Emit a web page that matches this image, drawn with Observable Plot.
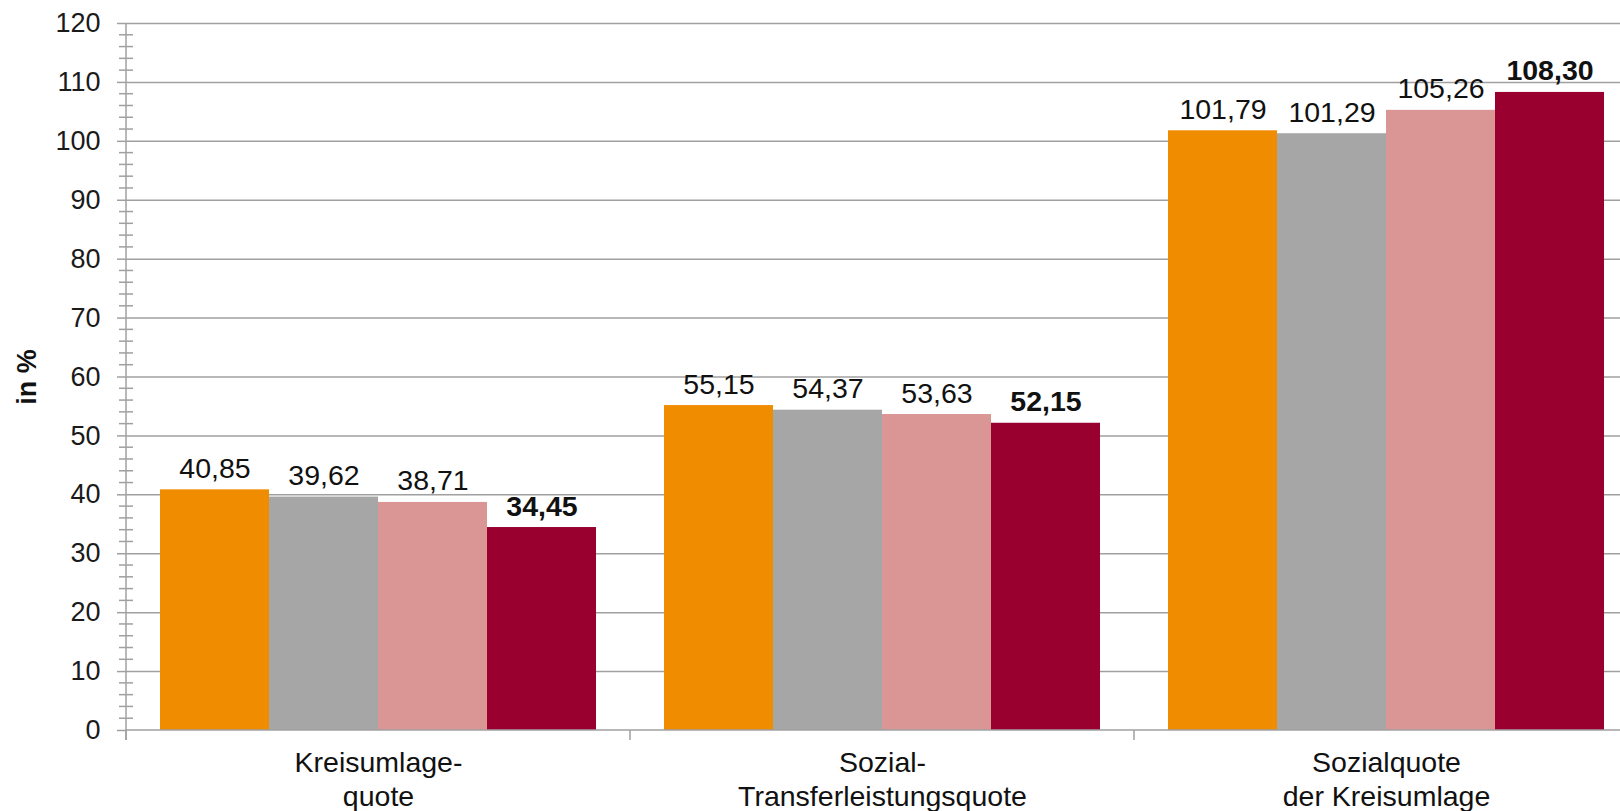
<!DOCTYPE html>
<html>
<head>
<meta charset="utf-8">
<script src="https://cdn.jsdelivr.net/npm/d3@7"></script>
<script src="https://cdn.jsdelivr.net/npm/@observablehq/plot@0.6"></script>
<style>
  html, body { margin: 0; padding: 0; background: #fff; overflow: hidden; }
  #chart svg { display: block; }
</style>
</head>
<body>
<div id="chart"></div>
<script>
// ---- Data ----
const categories = ["Kreisumlage-\nquote", "Sozial-\nTransferleistungsquote", "Sozialquote\nder Kreisumlage"];
const series = ["Reihe 1", "Reihe 2", "Reihe 3", "Reihe 4"];
const reihe1 = [40.85, 55.15, 101.79];
const reihe2 = [39.62, 54.37, 101.29];
const reihe3 = [38.71, 53.63, 105.26];
const reihe4 = [34.45, 52.15, 108.30];
const yTicks = [0, 10, 20, 30, 40, 50, 60, 70, 80, 90, 100, 110, 120];
const yLabel = "in %";
const colors = ["#F08C00", "#A6A6A6", "#D99694", "#990030"];

const seriesValues = [reihe1, reihe2, reihe3, reihe4];
const table = [];
series.forEach((s, si) => {
  categories.forEach((c, ci) => {
    table.push({cat: c, series: s, value: seriesValues[si][ci]});
  });
});
const fmt = v => v.toFixed(2).replace(".", ",");
const lastSeries = series[series.length - 1];

const font = "'Liberation Sans', Arial, sans-serif";
const gridColor = "#a0a0a0";

const plot = Plot.plot({
  width: 1620,
  height: 811,
  marginLeft: 126,
  marginRight: -18,
  marginTop: 23,
  marginBottom: 81,
  style: {fontFamily: font, background: "#fff", overflow: "visible"},
  fx: {domain: categories, padding: 0, axis: null},
  x: {domain: series, paddingInner: 0, paddingOuter: 0.31, axis: null},
  y: {domain: [0, 120], axis: null},
  color: {domain: series, range: colors},
  marks: [
    Plot.ruleY(yTicks.filter(d => d > 0), {stroke: gridColor, strokeWidth: 1.5}),
    Plot.axisY({
      ticks: yTicks, tickSize: 9, tickPadding: 17, fontSize: 27,
      stroke: gridColor, strokeWidth: 1.5, strokeOpacity: 1, fill: "#1a1a1a", label: null,
      tickFormat: d => String(d)
    }),
    Plot.barY(table, {fx: "cat", x: "series", y: "value", fill: "series"}),
    Plot.text(table.filter(d => d.series !== lastSeries), {
      fx: "cat", x: "series", y: "value", text: d => fmt(d.value),
      lineAnchor: "bottom", dy: -12, fontSize: 28.5, fill: "#111"
    }),
    Plot.text(table.filter(d => d.series === lastSeries), {
      fx: "cat", x: "series", y: "value", text: d => fmt(d.value),
      lineAnchor: "bottom", dy: -12, fontSize: 28.5, fontWeight: "bold", fill: "#111"
    }),
    Plot.axisFx({
      anchor: "bottom", tickSize: 0, tickPadding: 17, fontSize: 28.5,
      lineHeight: 1.2, fill: "#111", label: null
    }),
    Plot.text([yLabel], {
      fx: () => categories[0], frameAnchor: "left", textAnchor: "middle", lineAnchor: "middle",
      rotate: -90, dx: -99, fontSize: 27, fontWeight: "bold", fill: "#111", text: d => d
    })
  ]
});

document.getElementById("chart").appendChild(plot);

// Axis lines, minor ticks and group separator ticks, positioned through Plot's scales
const y = plot.scale("y");
const fx = plot.scale("fx");
const x0 = fx.apply(categories[0]);
const xEnd = fx.apply(categories[categories.length - 1]) + fx.bandwidth;
const y0 = y.apply(0);
const g = d3.select(plot).append("g")
  .attr("stroke", gridColor).attr("stroke-width", 1.5).attr("fill", "none");
// vertical axis line
g.append("line").attr("x1", x0).attr("x2", x0).attr("y1", y.apply(120)).attr("y2", y0 + 10);
// minor ticks (every 2), crossing the axis
d3.range(0, 121, 2).filter(v => v % 10 !== 0).forEach(v => {
  g.append("line").attr("x1", x0 - 7).attr("x2", x0 + 7).attr("y1", y.apply(v)).attr("y2", y.apply(v));
});
// horizontal axis line
g.append("line").attr("x1", x0).attr("x2", xEnd).attr("y1", y0).attr("y2", y0);
// group separator ticks
categories.forEach(c => {
  const xx = fx.apply(c);
  g.append("line").attr("x1", xx).attr("x2", xx).attr("y1", y0).attr("y2", y0 + 10);
});
g.append("line").attr("x1", xEnd).attr("x2", xEnd).attr("y1", y0).attr("y2", y0 + 10);
</script>
</body>
</html>
